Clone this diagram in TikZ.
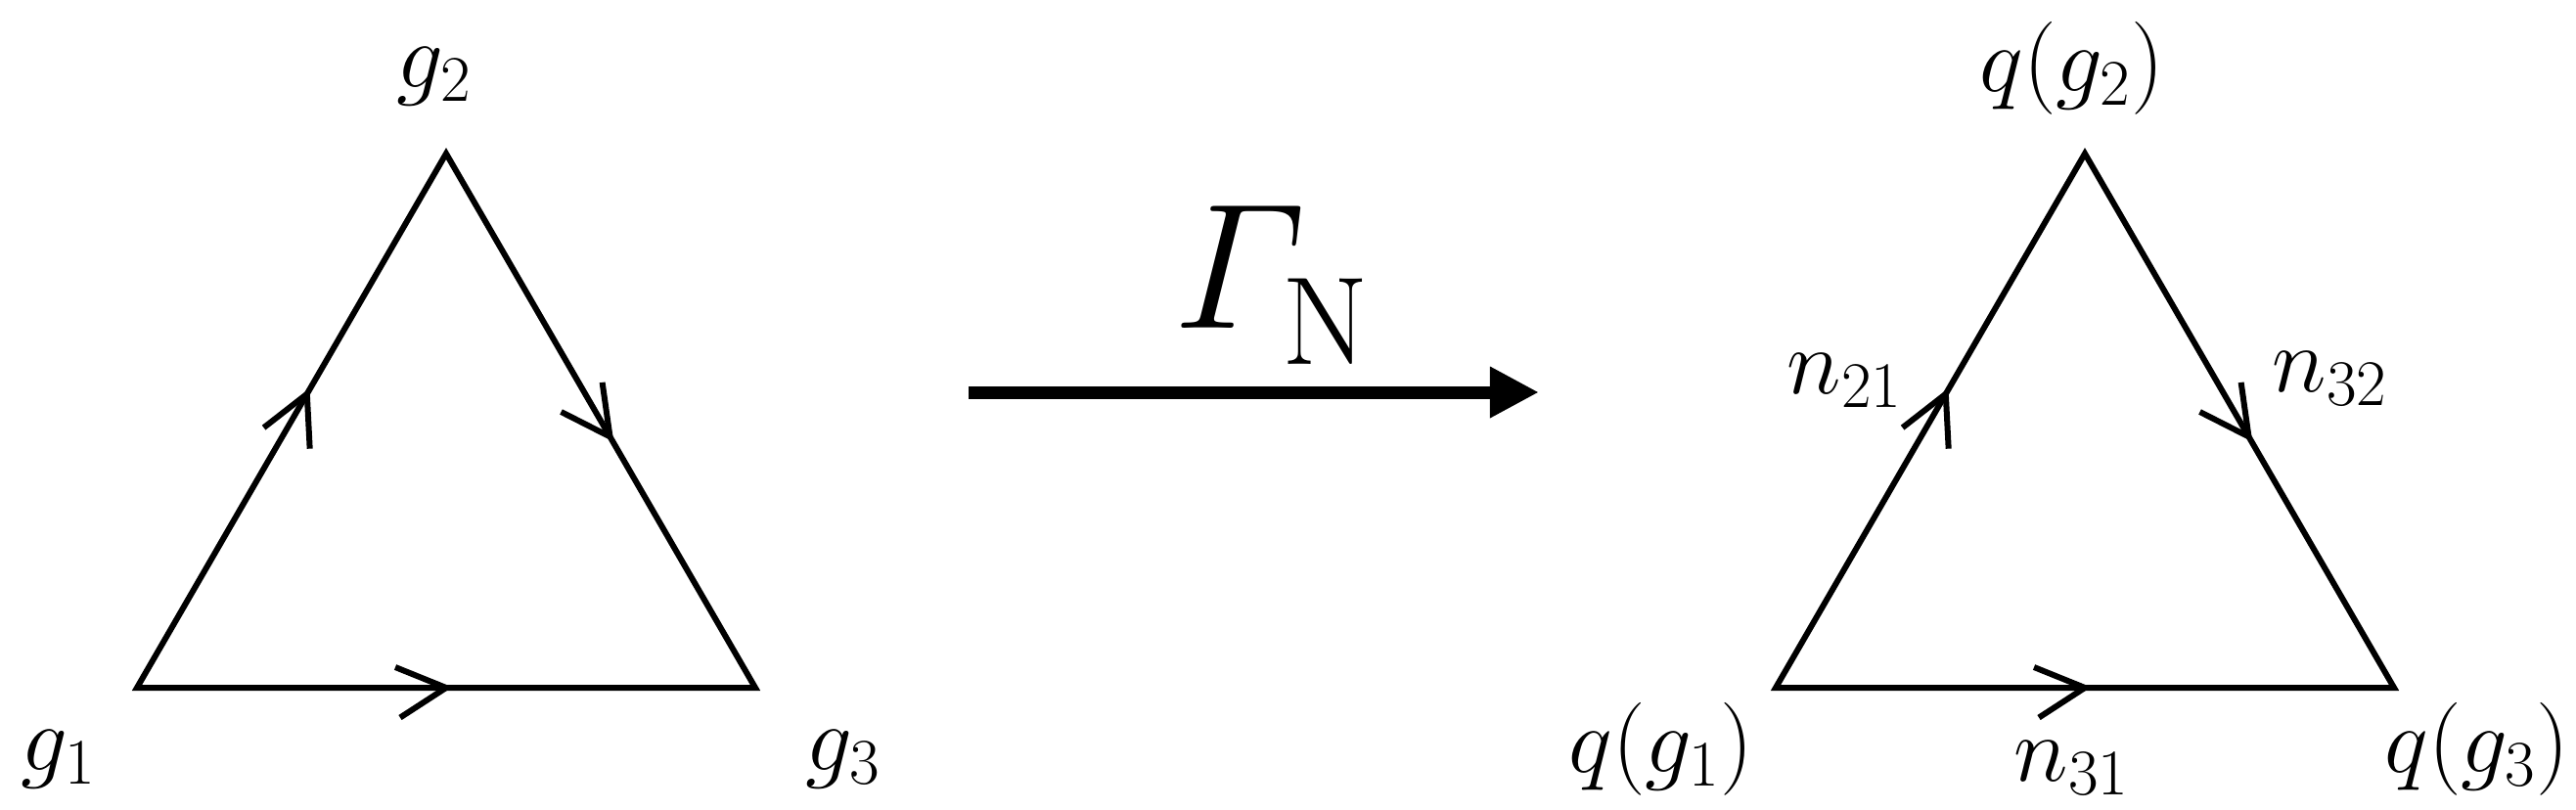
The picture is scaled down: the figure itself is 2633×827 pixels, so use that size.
\RequirePackage{fix-cm}
\documentclass[tikz,border=0pt]{standalone}
\usepackage{amsmath}
\usetikzlibrary{calc,arrows.meta}
\tikzset{
  edge/.style={line width=0.06cm, line join=miter},
  chev/.style={line width=0.06cm, line join=miter, line cap=butt},
  lbl/.style={inner sep=0pt, anchor=base, font=\fontsize{27}{32}\selectfont},
  biglbl/.style={inner sep=0pt, anchor=base, font=\fontsize{52}{60}\selectfont},
  maparrow/.style={line width=0.13cm, -{Triangle[length=0.5cm,width=0.49cm]}},
}
\newcommand\mychev[2]{\draw[chev] ($(#1)!0.56cm!-22:(#2)$) -- (#1) -- ($(#1)!0.56cm!33:(#2)$);}
\begin{document}
\begin{tikzpicture}[x=0.01cm,y=-0.01cm]
\useasboundingbox (0,0) rectangle (2633,827);
% left triangle
\coordinate (A1) at (140,703);
\coordinate (B1) at (456,157);
\coordinate (C1) at (772,703);
\draw[edge] (A1) -- (B1) -- (C1) -- cycle;
\coordinate (t11) at ($(A1)!0.55!(B1)$);
\coordinate (t12) at ($(B1)!0.53!(C1)$);
\coordinate (t13) at ($(A1)!0.5!(C1)$);
\mychev{t11}{A1}
\mychev{t12}{B1}
\mychev{t13}{A1}
\node[lbl] (g1) at (60,787) {$g_1$};
\node[lbl] (g2) at (444,89) {$g_2$};
\node[lbl] (g3) at (862,787) {$g_3$};
% map arrow
\coordinate (mS) at (990,401);
\coordinate (mE) at (1573,401);
\draw[maparrow] (mS) -- (mE);
\node[biglbl] (gam) at (1300,335) {$\varGamma_{\lower3pt\hbox{$\scriptstyle\mathrm{N}$}}$};
% right triangle
\coordinate (A2) at (1815,703);
\coordinate (B2) at (2131,157);
\coordinate (C2) at (2447,703);
\draw[edge] (A2) -- (B2) -- (C2) -- cycle;
\coordinate (t21) at ($(A2)!0.55!(B2)$);
\coordinate (t22) at ($(B2)!0.53!(C2)$);
\coordinate (t23) at ($(A2)!0.5!(C2)$);
\mychev{t21}{A2}
\mychev{t22}{B2}
\mychev{t23}{A2}
\node[lbl] (q1) at (1698,789) {$q(g_1)$};
\node[lbl] (q2) at (2118,93) {$q(g_2)$};
\node[lbl] (q3) at (2532,789) {$q(g_3)$};
\node[lbl] (n21) at (1886,402) {$n_{21}$};
\node[lbl] (n32) at (2382,400) {$n_{32}$};
\node[lbl] (n31) at (2118,798) {$n_{31}$};
\end{tikzpicture}
\end{document}
